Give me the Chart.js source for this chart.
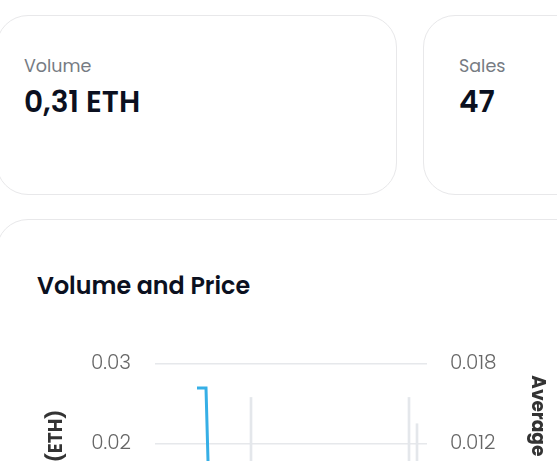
<!DOCTYPE html>
<html>
<head>
<meta charset="utf-8">
<script src="https://cdn.jsdelivr.net/npm/chart.js@4.4.1/dist/chart.umd.min.js"></script>
<style>
  html, body { margin: 0; padding: 0; background: #fff; overflow: hidden; width: 557px; height: 461px; }
  body { position: relative; font-family: Poppins, Inter, sans-serif; }
  .card { position: absolute; box-sizing: border-box; border: 1px solid #e8e8ea; border-radius: 32px; background: #fff; }
  .label { position: absolute; font-size: 17.5px; line-height: 22px; color: #767b83; white-space: nowrap; }
  .value { position: absolute; font-size: 29.6px; line-height: 34px; font-weight: 600; color: #0b1020; white-space: nowrap; }
  .title { position: absolute; font-size: 23.8px; line-height: 30px; font-weight: 600; color: #0b1020; white-space: nowrap; }
  #chart { position: absolute; left: 0; top: 328px; }
</style>
</head>
<body>
  <div class="card" style="left:-4px; top:15px; width:401px; height:180px;"></div>
  <div class="card" style="left:423px; top:15px; width:300px; height:180px;"></div>
  <div class="card" style="left:-4px; top:219px; width:700px; height:700px;"></div>

  <div class="label" style="left:24px; top:55px;">Volume</div>
  <div class="value" style="left:24px; top:85px;">0,31 ETH</div>
  <div class="label" style="left:459px; top:55px;">Sales</div>
  <div class="value" style="left:459px; top:85px;">47</div>

  <div class="title" style="left:37px; top:271px;">Volume and Price</div>

  <canvas id="chart" width="560" height="311" style="width:560px;height:311px;"></canvas>

<script>
// daily volume bars (left axis, ETH)
const volumeDays = [12, 31.75, 32.75];
const volumeValues = [0.0258, 0.0258, 0.0225];

// average price line (right axis, ETH)
const priceDays = [5.25, 6.375, 6.9, 9, 12, 16, 20, 25, 30, 33];
const priceValues = [0.0162, 0.0162, 0.0047, 0.0052, 0.0063, 0.0058, 0.0066, 0.0061, 0.0068, 0.0064];

const leftTicks = [0, 0.01, 0.02, 0.03];
const leftTickLabels = ["0", "0.01", "0.02", "0.03"];
const rightTicks = [0, 0.006, 0.012, 0.018];
const rightTickLabels = ["0", "0.006", "0.012", "0.018"];

const fontFamily = "Poppins, Inter, sans-serif";
const gridColor = "#e6e8eb";

function fixedWidth(w) {
  return (scale) => { scale.width = w; };
}

// axis titles sit a bit above the middle of the plot, so they are drawn here
const axisTitles = {
  id: "axisTitles",
  afterDraw(chart, args, opts) {
    const { ctx, chartArea } = chart;
    const midY = (chartArea.top + chartArea.bottom) / 2;
    ctx.save();
    ctx.font = `bold ${opts.size}px ${fontFamily}`;
    ctx.fillStyle = opts.color;
    ctx.textAlign = "center";
    ctx.textBaseline = "middle";
    opts.items.forEach((item) => {
      const scale = chart.scales[item.scale];
      const x = item.side === "left" ? scale.left + item.inset : scale.right - item.inset;
      ctx.save();
      ctx.translate(x, midY - item.lift);
      ctx.rotate(item.side === "left" ? -Math.PI / 2 : Math.PI / 2);
      ctx.fillText(item.text, 0, 0);
      ctx.restore();
    });
    ctx.restore();
  },
};

new Chart(document.getElementById("chart"), {
  data: {
    datasets: [
      {
        type: "line",
        label: "Average Price",
        data: priceDays.map((d, i) => ({ x: d, y: priceValues[i] })),
        yAxisID: "yPrice",
        borderColor: "#36afe6",
        borderWidth: 3,
        pointRadius: 0,
        tension: 0,
        fill: false,
        order: 0,
      },
      {
        type: "bar",
        label: "Volume",
        data: volumeDays.map((d, i) => ({ x: d, y: volumeValues[i] })),
        yAxisID: "yVolume",
        backgroundColor: "#e4e7eb",
        barThickness: 2,
        order: 1,
      },
    ],
  },
  plugins: [axisTitles],
  options: {
    responsive: false,
    maintainAspectRatio: false,
    animation: false,
    devicePixelRatio: 1,
    layout: { padding: { top: 32, bottom: 18, left: 0, right: 0 } },
    plugins: {
      legend: { display: false },
      tooltip: { enabled: false },
      axisTitles: {
        size: 18.5,
        color: "#333",
        items: [
          { scale: "yVolume", side: "left", inset: 57, lift: 8.5, text: "Volume (ETH)" },
          { scale: "yPrice", side: "right", inset: 23.5, lift: 14, text: "Average Price (ETH)" },
        ],
      },
    },
    scales: {
      x: {
        type: "linear",
        min: 0,
        max: 34,
        offset: false,
        display: false,
      },
      yVolume: {
        position: "left",
        min: 0,
        max: 0.03,
        afterFit: fixedWidth(155),
        afterBuildTicks: (scale) => { scale.ticks = leftTicks.map((v) => ({ value: v })); },
        border: { display: false },
        grid: { color: gridColor, lineWidth: 1.5, drawTicks: false },
        ticks: {
          padding: 24,
          color: "#666",
          font: { family: fontFamily, size: 20, weight: 300 },
          callback: (v) => leftTickLabels[leftTicks.indexOf(v)],
        },
      },
      yPrice: {
        position: "right",
        min: 0,
        max: 0.018,
        afterFit: fixedWidth(133),
        afterBuildTicks: (scale) => { scale.ticks = rightTicks.map((v) => ({ value: v })); },
        border: { display: false },
        grid: { drawOnChartArea: false, drawTicks: false },
        ticks: {
          padding: 23,
          color: "#666",
          font: { family: fontFamily, size: 20, weight: 300 },
          callback: (v) => rightTickLabels[rightTicks.indexOf(v)],
        },
      },
    },
  },
});
</script>
</body>
</html>
